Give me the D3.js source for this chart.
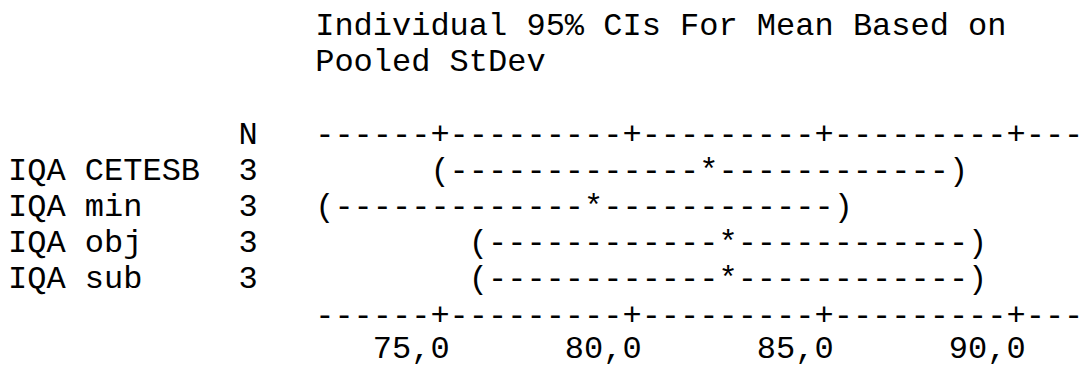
<!DOCTYPE html>
<html>
<head>
<meta charset="utf-8">
<script src="https://cdn.jsdelivr.net/npm/d3@7"></script>
<style>
  html, body { margin: 0; padding: 0; background: #fff; }
  svg text { font-family: "Courier New", "Liberation Mono", monospace; font-size: 32px; fill: #000; white-space: pre; }
</style>
</head>
<body>
<svg></svg>
<script>
const width = 1083;
const height = 365;

const titleLines = ["Individual 95% CIs For Mean Based on", "Pooled StDev"];
const groups = ["IQA CETESB", "IQA min", "IQA obj", "IQA sub"];
const counts = [3, 3, 3, 3];
const lower = [75.15, 72.15, 75.9, 75.9];
const means = [81.75, 78.75, 82.5, 82.5];
const upper = [88.35, 85.35, 89.1, 89.1];
const tickValues = [75, 80, 85, 90];
const tickLabels = ["75,0", "80,0", "85,0", "90,0"];

// text grid (monospace, 0.6em advance)
const cw = 19.2;
const left = 8;
const lineH = 36.2;
const firstBase = 35;
const plotCol = 16;
const plotCols = 40;
const plotLeft = left + plotCol * cw;
const lineY = i => firstBase + i * lineH;

const svg = d3.select('svg')
    .attr('width', width).attr('height', height);

const x = d3.scaleLinear()
    .domain([75, 90])
    .range([plotLeft + 6.5 * cw, plotLeft + 36.5 * cw]);

// snap a value to its character column inside the plot area
const colOf = v => Math.round((x(v) - plotLeft) / cw - 0.5);

drawTitle();
drawLabels();
drawAxisLines();
drawIntervals();
drawTickLabels();

function drawTitle() {
    svg.selectAll('.title')
        .data(titleLines)
        .enter().append('text')
        .attr('class', 'title')
        .attr('x', plotLeft)
        .attr('y', (d, i) => lineY(i))
        .text(d => d);
}

function drawLabels() {
    svg.append('text')
        .attr('x', left + 12 * cw)
        .attr('y', lineY(3))
        .text('N');

    const rows = svg.selectAll('.row')
        .data(groups)
        .enter().append('g')
        .attr('class', 'row');
    rows.append('text')
        .attr('x', left)
        .attr('y', (d, i) => lineY(4 + i))
        .text(d => d);
    rows.append('text')
        .attr('x', left + 12 * cw)
        .attr('y', (d, i) => lineY(4 + i))
        .text((d, i) => counts[i]);
}

function axisString() {
    const chars = new Array(plotCols).fill('-');
    tickValues.forEach(t => { chars[colOf(t)] = '+'; });
    return chars.join('');
}

function drawAxisLines() {
    svg.selectAll('.axis')
        .data([3, 8])
        .enter().append('text')
        .attr('class', 'axis')
        .attr('x', plotLeft)
        .attr('y', d => lineY(d))
        .text(axisString());
}

function drawIntervals() {
    svg.selectAll('.ci')
        .data(groups)
        .enter().append('text')
        .attr('class', 'ci')
        .attr('x', (d, i) => plotLeft + colOf(lower[i]) * cw)
        .attr('y', (d, i) => lineY(4 + i))
        .text((d, i) => {
            const a = colOf(lower[i]);
            const m = colOf(means[i]);
            const b = colOf(upper[i]);
            return '(' + '-'.repeat(m - a - 1) + '*' + '-'.repeat(b - m - 1) + ')';
        });
}

function drawTickLabels() {
    // last character of each label sits under its '+'
    svg.selectAll('.tick')
        .data(tickValues)
        .enter().append('text')
        .attr('class', 'tick')
        .attr('x', d => plotLeft + (colOf(d) + 1) * cw)
        .attr('y', lineY(9) - 3)
        .attr('text-anchor', 'end')
        .text((d, i) => tickLabels[i]);
}
</script>
</body>
</html>
